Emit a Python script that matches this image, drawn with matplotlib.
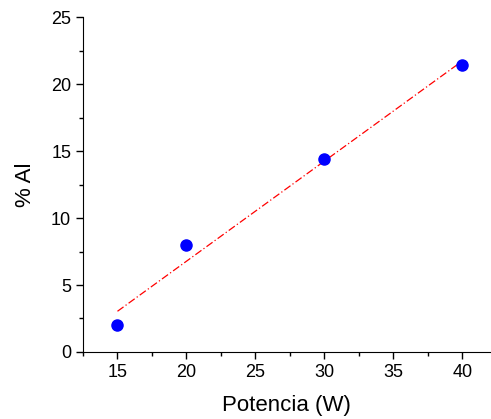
import numpy as np
import matplotlib.pyplot as plt
from matplotlib.ticker import MultipleLocator

plt.rcParams['font.family'] = ['Liberation Sans', 'DejaVu Sans']

# data
potencia = [15, 20, 30, 40]
al = [2.0, 8.0, 14.4, 21.4]

# linear fit
slope, intercept = np.polyfit(potencia, al, 1)
xfit = np.array([min(potencia), max(potencia)])

fig = plt.figure(figsize=(4.91, 4.19), dpi=100)
ax = fig.add_axes([0.169, 0.160, 0.829, 0.799])

ax.plot(xfit, slope * xfit + intercept, color='red', linestyle=(0, (6, 2, 1, 2)), linewidth=0.9)
ax.plot(potencia, al, 'o', color='blue', markersize=8, zorder=3)

ax.set_xlim(12.5, 42)
ax.set_ylim(0, 25)
ax.xaxis.set_major_locator(MultipleLocator(5))
ax.xaxis.set_minor_locator(MultipleLocator(2.5))
ax.yaxis.set_major_locator(MultipleLocator(5))
ax.yaxis.set_minor_locator(MultipleLocator(2.5))

ax.spines['top'].set_visible(False)
ax.spines['right'].set_visible(False)
ax.tick_params(which='major', direction='out', length=5, width=1, labelsize=13)
ax.tick_params(which='minor', direction='out', length=3, width=1)

ax.set_xlabel('Potencia (W)', fontsize=16, labelpad=10)
ax.set_ylabel('% Al', fontsize=16, labelpad=11)

fig.savefig('out.png', dpi=100)
